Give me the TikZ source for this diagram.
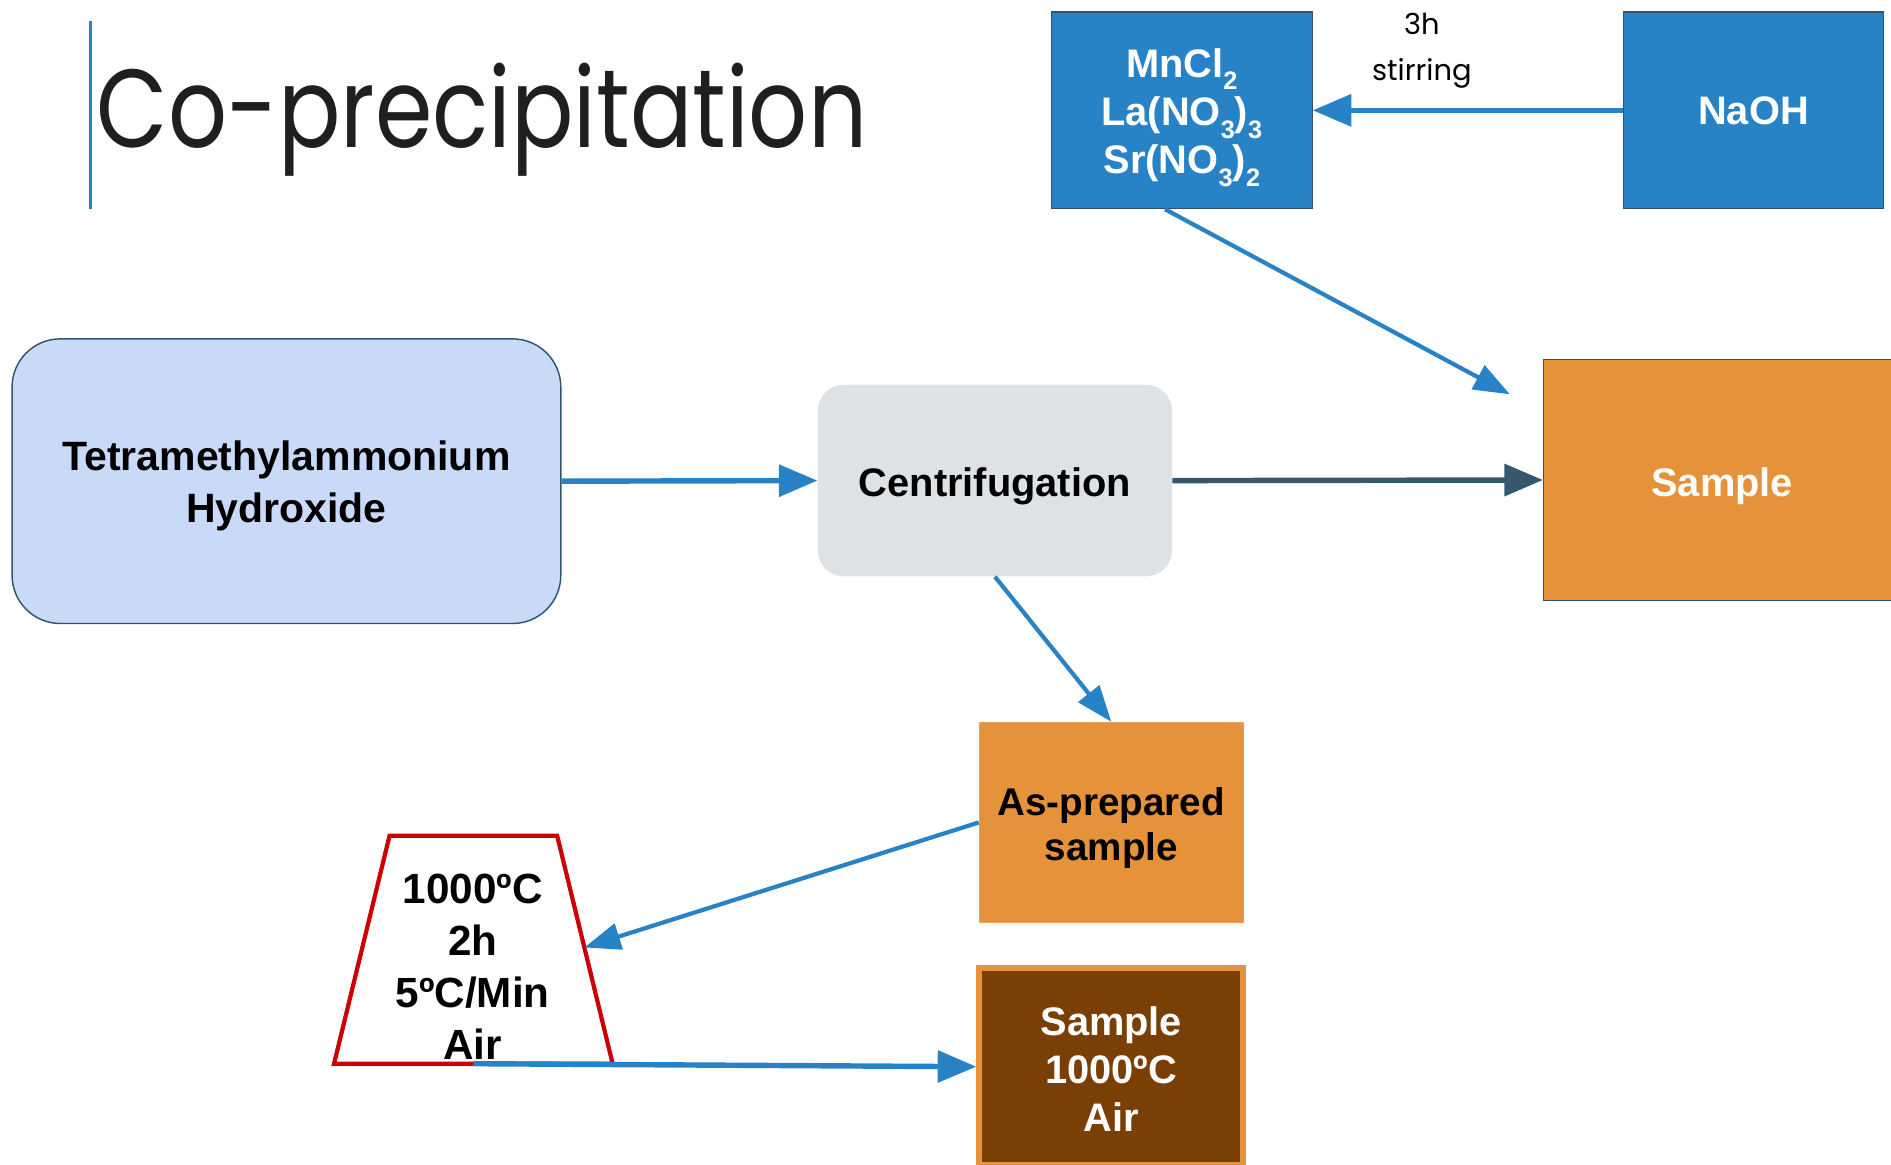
\documentclass[tikz,border=0pt]{standalone}
\usepackage{fontspec}
\setmainfont{Liberation Sans}
\newfontfamily\titlefont{Poppins}
\usetikzlibrary{arrows.meta,calc}
\definecolor{cblue}{HTML}{2882C6}
\definecolor{cdark}{HTML}{36586E}
\definecolor{corange}{HTML}{E6923A}
\definecolor{cbrown}{HTML}{7A3F04}
\definecolor{clight}{HTML}{C9DAF8}
\definecolor{cgray}{HTML}{DFE2E5}
\definecolor{cedge}{HTML}{2F5470}
\definecolor{cred}{HTML}{CC0000}
\newcommand{\chemsub}[1]{\raisebox{-0.32em}{\fontsize{21}{21}\selectfont #1}}
\newcommand{\lowtext}[2][4pt]{\raisebox{-#1}[\height][\depth]{\begin{tabular}{@{}c@{}}#2\end{tabular}}}
\tikzset{
  boxbase/.style={rectangle, inner sep=0pt,
    font=\bfseries\fontsize{33}{40}\selectfont},
  bluebox/.style={boxbase, fill=cblue, draw=cedge, line width=1pt, text=white,
    minimum width=216pt, minimum height=163pt},
  arrthick/.style={draw=cblue, line width=4.5pt, -{Triangle[length=32pt,width=26pt]}},
  arrthin/.style={draw=cblue, line width=3.5pt, -{Triangle[length=30pt,width=22pt]}},
  arrdark/.style={draw=cdark, line width=4.5pt, -{Triangle[length=32pt,width=26pt]}},
}
\begin{document}
\begin{tikzpicture}[x=1pt,y=-1pt]
\useasboundingbox (0,0) rectangle (1568,966);
\clip (0,0) rectangle (1568,966);

% title
\coordinate (tlt) at (75,17);
\coordinate (tlb) at (75,173);
\draw[cblue, line width=3pt] (tlt) -- (tlb);
\node[anchor=base west, inner sep=0pt, font=\titlefont\fontsize{92}{92}\selectfont, text=black!88] (title) at (80,122) {\scalebox{0.833}[1]{Co-precipitation}};

% top row
\node[bluebox] (mn) at (980,91.5) {\lowtext[4.5pt]{MnCl\chemsub{2}\\La(NO\chemsub{3})\chemsub{3}\\Sr(NO\chemsub{3})\chemsub{2}}};
\node[bluebox] (na) at (1454,91.5) {\lowtext[4pt]{NaOH}};
\node[align=center, font=\titlefont\fontsize{24}{38}\selectfont] (lbl) at (1179,42) {3h\\stirring};

% middle row
\node[boxbase, fill=clight, draw=cedge, line width=1.2pt, rounded corners=40pt,
  minimum width=455pt, minimum height=236pt, font=\bfseries\fontsize{34}{43}\selectfont] (tetra) at (237.5,399) {\lowtext[4pt]{Tetramethylammonium\\Hydroxide}};
\node[boxbase, fill=cgray, rounded corners=22pt, minimum width=294pt, minimum height=159pt, text=black] (cent) at (825,398.5) {\lowtext[5pt]{Centrifugation}};
\node[boxbase, fill=corange, draw=cedge, line width=1.2pt, minimum width=296pt, minimum height=200pt, text=white] (sample) at (1428,398) {\lowtext[6pt]{Sample}};

% lower
\node[boxbase, fill=corange, draw=corange!85!white, line width=1pt, minimum width=219pt, minimum height=166pt, font=\bfseries\fontsize{32}{37}\selectfont] (asp) at (921.5,682) {\lowtext[5.5pt]{As-prepared\\sample}};
\node[boxbase, fill=cbrown, draw=corange, line width=5pt, minimum width=219pt, minimum height=163pt, text=white] (sfin) at (921.5,884.5) {\lowtext[6pt]{Sample\\1000ºC\\Air}};

% furnace trapezoid
\coordinate (ftl) at (323,693);
\coordinate (ftr) at (462,693);
\coordinate (fbr) at (508,882);
\coordinate (fbl) at (277,882);
\draw[cred, line width=3.5pt, fill=white] (ftl) -- (ftr) -- (fbr) -- (fbl) -- cycle;
\node[align=center, inner sep=0pt, font=\bfseries\fontsize{35}{43}\selectfont] (furn) at (392,801.5) {1000ºC\\2h\\5ºC/Min\\Air};
\coordinate (fin) at ($(ftr)!0.49!(fbr)$);
\coordinate (fout) at ($(fbl)!0.5!(fbr)$);
\coordinate (send) at (1252,327);

% connectors
\draw[arrthick] (na.west) -- (mn.east);
\draw[arrthin] ($(mn.south)+(-14,0)$) -- (send);
\draw[arrthick] (tetra.east) -- (cent.west);
\draw[arrdark] (cent.east) -- (sample.west);
\draw[arrthin] (cent.south) -- (asp.north);
\draw[arrthin] (asp.west) -- (fin);
\draw[arrthick] (fout) -- (sfin.west);
\end{tikzpicture}
\end{document}
